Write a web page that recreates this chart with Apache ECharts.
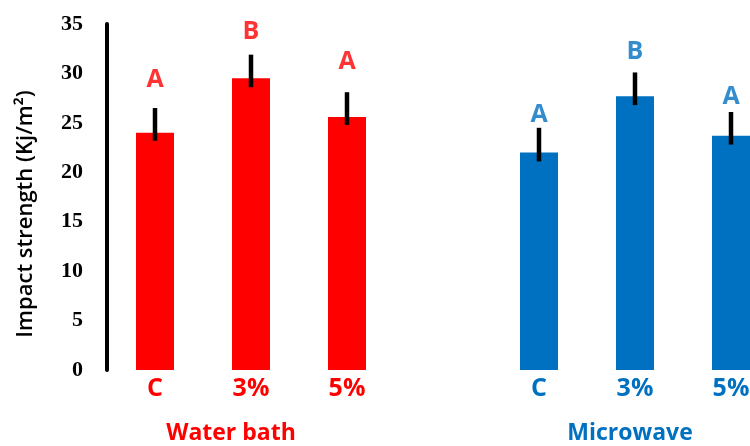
<!DOCTYPE html>
<html>
<head>
<meta charset="utf-8">
<style>
  html, body { margin: 0; padding: 0; background: #fff; }
  #chart { width: 750px; height: 446px; }
</style>
<script src="https://cdn.jsdelivr.net/npm/echarts@6/dist/echarts.min.js"></script>
</head>
<body>
<div id="chart"></div>
<script>
// Impact strength by treatment: water bath vs microwave, with letter groups.
const categories = ["C", "3%", "5%", "", "C", "3%", "5%"];
const waterBath = [24.0, 29.5, 25.6];
const microwave = [22.0, 27.7, 23.7];
const waterHigh = [26.5, 31.9, 28.1];
const waterLow = [23.2, 28.6, 24.8];
const microHigh = [24.5, 30.1, 26.1];
const microLow = [21.1, 26.8, 22.8];
const waterLetters = ["A", "B", "A"];
const microLetters = ["A", "B", "A"];
// where each letter sits on the value axis
const waterLetterY = [29.3, 34.2, 31.2];
const microLetterY = [25.8, 32.2, 27.6];
const yTicks = [0, 5, 10, 15, 20, 25, 30, 35];

const RED = "#FF0000";
const BLUE = "#0070C0";
const FONT = "'Open Sans', sans-serif";

// categories 0..2 are water bath, 4..6 microwave (3 is the gap)
const barData = [
  ...waterBath.map((v) => ({ value: v, itemStyle: { color: RED } })),
  "-",
  ...microwave.map((v) => ({ value: v, itemStyle: { color: BLUE } })),
];
const errData = [
  ...waterLow.map((lo, i) => [i, lo, waterHigh[i]]),
  ...microLow.map((lo, i) => [i + 4, lo, microHigh[i]]),
];
const letterData = [
  ...waterLetters.map((t, i) => ({ value: [i, waterLetterY[i]], name: t, label: { color: RED } })),
  ...microLetters.map((t, i) => ({ value: [i + 4, microLetterY[i]], name: t, label: { color: BLUE } })),
];

const chart = echarts.init(document.getElementById("chart"));
chart.setOption({
  animation: false,
  // the plot runs past the right edge, so the last bar is clipped like the original
  grid: { left: 107, width: 672, top: 24, bottom: 76, outerBoundsMode: "none", containLabel: false },
  xAxis: {
    type: "category",
    data: categories,
    axisLine: { show: false },
    axisTick: { show: false },
    axisLabel: {
      margin: 6,
      fontFamily: FONT,
      fontWeight: "bold",
      fontSize: 25,
      color: (v, i) => (i < 3 ? RED : BLUE),
    },
  },
  yAxis: {
    type: "value",
    min: yTicks[0],
    max: yTicks[yTicks.length - 1],
    interval: 5,
    name: "Impact strength (Kj/m\u00B2)",
    nameLocation: "middle",
    nameGap: 70,
    nameTextStyle: {
      fontFamily: FONT, fontWeight: 600, fontSize: 22, color: "#000",
      padding: [0, 0, 0, -34],
    },
    axisLine: { show: true, lineStyle: { color: "#000", width: 4 } },
    axisTick: { show: false },
    splitLine: { show: false },
    axisLabel: {
      margin: 24,
      fontFamily: "'Liberation Serif', 'Times New Roman', serif",
      fontWeight: "bold",
      fontSize: 22,
      color: "#000",
    },
  },
  series: [
    { type: "bar", data: barData, barWidth: 38 },
    {
      type: "custom",
      data: errData,
      z: 3,
      renderItem: (params, api) => {
        const lo = api.coord([api.value(0), api.value(1)]);
        const hi = api.coord([api.value(0), api.value(2)]);
        return {
          type: "line",
          shape: { x1: lo[0], y1: lo[1], x2: hi[0], y2: hi[1] },
          style: { stroke: "#000", lineWidth: 4.5 },
        };
      },
    },
    {
      type: "scatter",
      data: letterData,
      symbolSize: 0,
      label: {
        show: true,
        position: "inside",
        formatter: (p) => p.name,
        fontFamily: FONT,
        fontWeight: "bold",
        fontSize: 25,
      },
    },
  ],
  graphic: [
    { type: "text", x: 231, y: 433, style: { text: "Water bath", fill: RED, font: "bold 23px " + FONT, align: "center", verticalAlign: "middle" } },
    { type: "text", x: 630, y: 433, style: { text: "Microwave", fill: BLUE, font: "bold 23px " + FONT, align: "center", verticalAlign: "middle" } },
  ],
});
</script>
</body>
</html>
